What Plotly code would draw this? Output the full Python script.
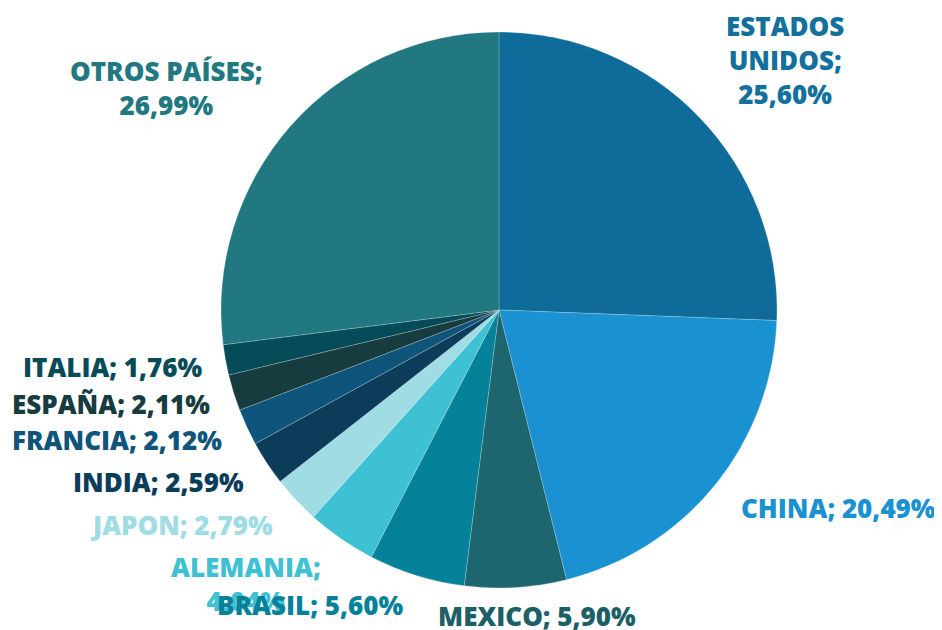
import plotly.graph_objects as go

countries = ["ESTADOS UNIDOS", "CHINA", "MEXICO", "BRASIL", "ALEMANIA", "JAPON",
             "INDIA", "FRANCIA", "ESPAÑA", "ITALIA", "OTROS PAÍSES"]
shares = [25.60, 20.49, 5.90, 5.60, 4.04, 2.79, 2.59, 2.12, 2.11, 1.76, 26.99]
colors = ["#0f6b99", "#1a91d0", "#1d6670", "#05829a", "#3ec1d3", "#a0dce4",
          "#0b3d5a", "#0f547a", "#163c40", "#064c58", "#217880"]
label_colors = ["#12709c", "#1a91d0", "#1c5f66", "#05829a", "#3ec1d3", "#a0dce4",
                "#0b3d5a", "#0f547a", "#163c40", "#064c58", "#217880"]

# label layout (pixel centres in the screenshot) and line breaks
label_pos = [(785, 60), (838, 508), (537, 616), (310, 605), (246, 584), (181, 525),
             (158, 482), (117, 440), (111, 404), (113, 367), (166, 88)]
label_breaks = {"ESTADOS UNIDOS": "ESTADOS<br>UNIDOS;<br>{v}",
                "ALEMANIA": "ALEMANIA;<br>{v}",
                "OTROS PAÍSES": "OTROS PAÍSES;<br>{v}"}

W, H = 942, 630
OFF = 8  # page body margin
cx, cy, r = 499 - OFF, 310 - OFF, 278

fig = go.Figure(go.Pie(
    labels=countries, values=shares, sort=False, direction="clockwise",
    rotation=0, textinfo="none", hoverinfo="label+percent",
    marker=dict(colors=colors, line=dict(color="rgba(255,255,255,0.35)", width=0.6)),
    domain=dict(x=[(cx - r) / W, (cx + r) / W], y=[1 - (cy + r) / H, 1 - (cy - r) / H]),
    showlegend=False,
))

def fmt(v):
    return f"{v:.2f}".replace(".", ",") + "%"

order = [4, 3] + [i for i in range(len(countries)) if i not in (3, 4)]
for i in order:
    name = countries[i]
    v = fmt(shares[i])
    text = label_breaks.get(name, name + "; {v}").format(v=v)
    x, y = label_pos[i]
    fig.add_annotation(x=(x - OFF) / W, y=1 - (y - OFF) / H, xref="paper", yref="paper",
                       text=text, showarrow=False, xanchor="center", yanchor="middle",
                       font=dict(family="Open Sans", size=26, color=label_colors[i], weight=800))

fig.update_layout(width=W, height=H, margin=dict(l=0, r=0, t=0, b=0),
                  paper_bgcolor="white", plot_bgcolor="white")
fig.write_html("out.html")
